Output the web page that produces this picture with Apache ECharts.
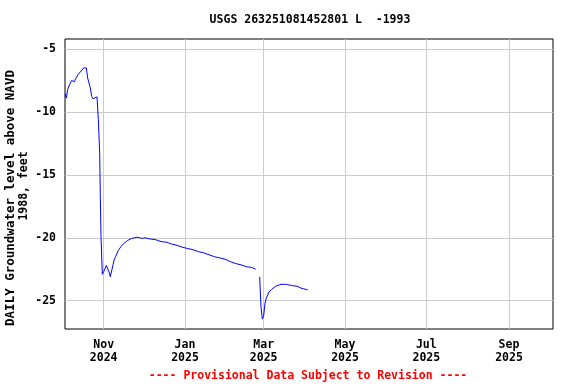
<!DOCTYPE html>
<html>
<head>
<meta charset="utf-8">
<script src="https://cdn.jsdelivr.net/npm/echarts@6/dist/echarts.min.js"></script>
<style>html,body{margin:0;padding:0;background:#fff}#c{width:576px;height:384px}</style>
</head>
<body>
<div id="c"></div>
<script>
var titleText = 'USGS 263251081452801 L  -1993';
var yTitle1 = 'DAILY Groundwater level above NAVD';
var yTitle2 = '1988, feet';
var footerText = '---- Provisional Data Subject to Revision ----';

var dates = [
 '2024-10-03','2024-10-04','2024-10-05','2024-10-07','2024-10-08','2024-10-10','2024-10-11','2024-10-13',
 '2024-10-15','2024-10-17','2024-10-19','2024-10-20','2024-10-22','2024-10-23','2024-10-24','2024-10-25',
 '2024-10-27','2024-10-28','2024-10-29','2024-10-29T12:00','2024-10-30','2024-10-31','2024-11-01','2024-11-02',
 '2024-11-03','2024-11-04','2024-11-05','2024-11-06','2024-11-07','2024-11-08','2024-11-09','2024-11-10',
 '2024-11-11','2024-11-12','2024-11-13','2024-11-14','2024-11-16','2024-11-18','2024-11-20','2024-11-22',
 '2024-11-24','2024-11-26','2024-11-28','2024-11-30','2024-12-02','2024-12-06','2024-12-10','2024-12-14',
 '2024-12-18','2024-12-22','2024-12-26','2024-12-30','2025-01-03','2025-01-07','2025-01-11','2025-01-15',
 '2025-01-19','2025-01-23','2025-01-27','2025-01-31','2025-02-04','2025-02-08','2025-02-12','2025-02-16',
 '2025-02-20','2025-02-23','2025-02-24T12:00','2025-02-26','2025-02-27','2025-02-28','2025-03-01','2025-03-02',
 '2025-03-03','2025-03-05','2025-03-07','2025-03-10','2025-03-14','2025-03-18','2025-03-22','2025-03-26',
 '2025-03-29','2025-03-31','2025-04-03'
];
var levels = [
 -8.55,-8.9,-8.2,-7.7,-7.5,-7.6,-7.35,-7.0,
 -6.75,-6.5,-6.5,-7.3,-8.1,-8.75,-8.95,-8.8,
 -8.8,-10.6,-13.2,-16.8,-19.9,-22.9,-22.7,-22.45,
 -22.2,-22.35,-22.7,-23.1,-23.25,-22.15,-21.7,-21.5,
 -21.35,-21.0,-20.85,-20.7,-20.45,-20.3,-20.15,-20.05,
 -20.0,-19.95,-20.0,-20.05,-20.0,-20.1,-20.15,-20.3,
 -20.35,-20.5,-20.6,-20.75,-20.85,-20.95,-21.1,-21.2,
 -21.35,-21.5,-21.6,-21.7,-21.9,-22.05,-22.15,-22.3,
 -22.35,-22.5,null,-23.1,-25.5,-26.45,-26.2,-25.2,
 -24.8,-24.3,-24.1,-23.85,-23.7,-23.7,-23.8,-23.85,
 -24.0,-24.05,-24.15
];
var xTicks = ['2024-11-01','2025-01-01','2025-03-01','2025-05-01','2025-07-01','2025-09-01'];
var yTicks = [-25,-20,-15,-10,-5];
var xStart = '2024-10-03';
var xEnd = '2025-10-04';
var monthNames = ['Jan','Feb','Mar','Apr','May','Jun','Jul','Aug','Sep','Oct','Nov','Dec'];

var FONT = '"DejaVu Sans Mono", monospace';
function ts(s){ return new Date(s.length > 10 ? s : s + 'T00:00:00').getTime(); }
var seriesData = dates.map(function(d,i){ return [ts(d), levels[i]]; });
var xTickValues = xTicks.map(ts);

var chart = echarts.init(document.getElementById('c'), null, {renderer:'canvas'});
chart.setOption({
  animation:false,
  backgroundColor:'#ffffff',
  title:{
    text:titleText, left:310, top:14, padding:0, textAlign:'center',
    textStyle:{fontFamily:FONT, fontSize:11.5, fontWeight:'bold', color:'#000', lineHeight:13}
  },
  grid:{left:65, right:23, top:39, bottom:55, show:true, borderColor:'#000', borderWidth:1, backgroundColor:'transparent'},
  xAxis:{
    type:'value',
    min:ts(xStart),
    max:ts(xEnd),
    axisLine:{show:false},
    axisTick:{show:false, customValues:xTickValues},
    splitLine:{show:true, lineStyle:{color:'#cccccc', width:1}},
    axisLabel:{
      customValues:xTickValues,
      margin:10,
      fontFamily:FONT, fontSize:11.5, fontWeight:'bold', color:'#000', lineHeight:13,
      formatter:function(v){ var d=new Date(v); return monthNames[d.getMonth()] + '\n' + d.getFullYear(); }
    }
  },
  yAxis:{
    type:'value',
    min:-27.25, max:-4.2,
    axisLine:{show:false},
    axisTick:{show:false, customValues:yTicks},
    splitLine:{show:true, lineStyle:{color:'#cccccc', width:1}},
    axisLabel:{
      customValues:yTicks, margin:9,
      fontFamily:FONT, fontSize:11.5, fontWeight:'bold', color:'#000'
    }
  },
  graphic:[
    {type:'text', x:11, y:198, rotation:Math.PI/2,
     style:{text:yTitle1, fontFamily:FONT, fontSize:12.5, fontWeight:'bold', fill:'#000', textAlign:'center', textVerticalAlign:'middle'}},
    {type:'text', x:24.5, y:186, rotation:Math.PI/2,
     style:{text:yTitle2, fontFamily:FONT, fontSize:11.5, fontWeight:'bold', fill:'#000', textAlign:'center', textVerticalAlign:'middle'}},
    {type:'text', x:308, y:376,
     style:{text:footerText, fontFamily:FONT, fontSize:11.5, fontWeight:'bold', fill:'#ff0000', textAlign:'center', textVerticalAlign:'middle'}}
  ],
  series:[{
    type:'line', data:seriesData, showSymbol:false, connectNulls:false,
    lineStyle:{color:'#0000ff', width:1}, itemStyle:{color:'#0000ff'}
  }]
});
</script>
</body>
</html>
